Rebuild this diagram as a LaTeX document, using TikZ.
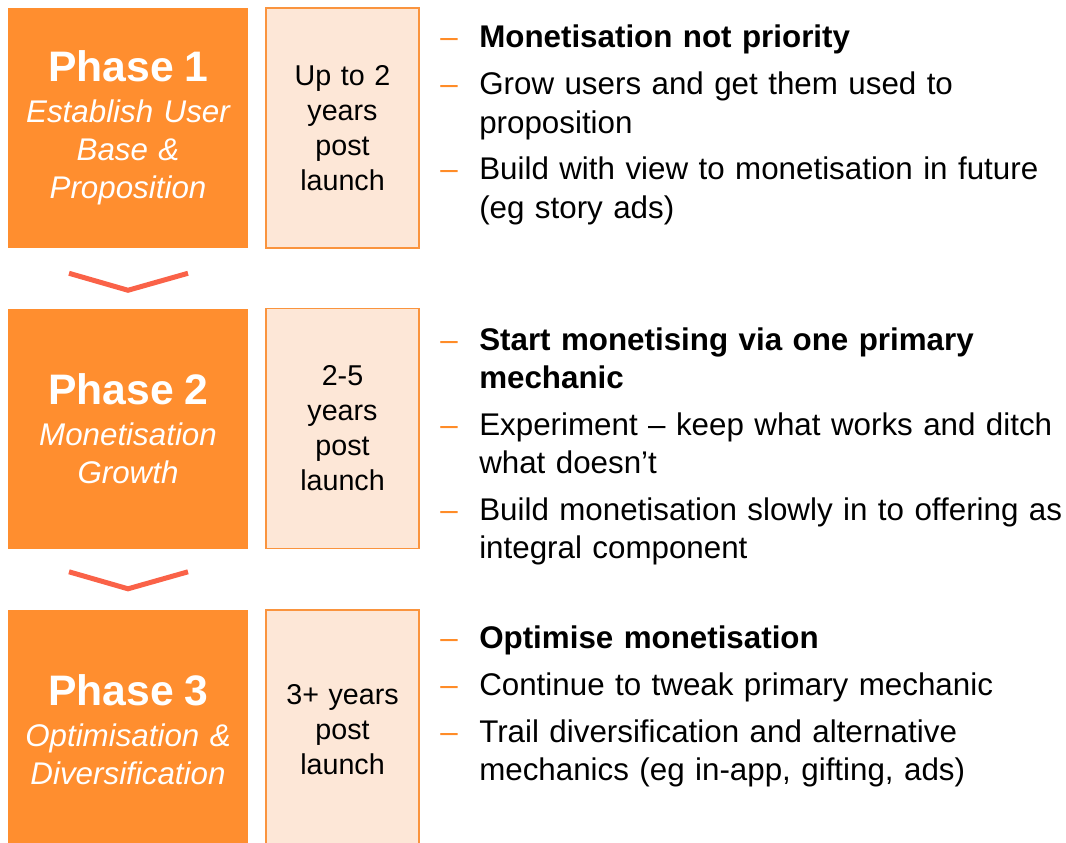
\documentclass[tikz,border=0pt]{standalone}
\usepackage{fontspec}
\setmainfont{Liberation Sans}
\usetikzlibrary{positioning,calc}

\definecolor{phaseorange}{RGB}{255,142,47}
\definecolor{timefill}{RGB}{253,231,215}
\definecolor{timeline}{RGB}{250,148,62}
\definecolor{chevred}{RGB}{250,98,72}
\definecolor{dashorange}{RGB}{255,140,40}

% one dash item with hanging second line
\newcommand{\dashitem}[1]{\noindent\hangindent=29.25pt\hangafter=1\makebox[29.25pt][l]{\textcolor{dashorange}{--}}#1\par}

\tikzset{
  phasebox/.style={fill=phaseorange, text=white, minimum width=180pt, minimum height=180pt, inner sep=0pt,
    text width=180pt, align=center, font=\fontsize{23.5pt}{28.5pt}\selectfont\itshape},
  timebox/.style={fill=timefill, draw=timeline, line width=1.1pt, minimum width=114.75pt, minimum height=180pt,
    inner sep=0pt, text width=114.75pt, align=center, font=\fontsize{21.5pt}{26.25pt}\selectfont},
  pointlist/.style={anchor=base west, inner sep=0pt, text width=520pt, align=left,
    font=\fontsize{23.5pt}{28.5pt}\selectfont, execute at begin node={\setlength{\parskip}{6.75pt}}},
  chevron/.style={draw=chevred, line width=3.75pt}
}

\begin{document}
\begin{tikzpicture}[x=0.75pt,y=0.75pt,yscale=-1,xscale=1]
\useasboundingbox (0,0) rectangle (1066,842);

%Shape: Rectangle -- phases
\node[phasebox] (ph1) at (128,128) {{\fontsize{32pt}{30pt}\selectfont\bfseries\upshape Phase 1}\\[2.25pt]Establish User\\Base \&\\Proposition};
\node[phasebox, below=45pt of ph1] (ph2) {{\fontsize{32pt}{30pt}\selectfont\bfseries\upshape Phase 2}\\[2.25pt]Monetisation\\Growth};
\node[phasebox, below=45.75pt of ph2] (ph3) {{\fontsize{32pt}{30pt}\selectfont\bfseries\upshape Phase 3}\\[2.25pt]Optimisation \&\\Diversification};

%Shape: Rectangle -- time spans
\node[timebox, right=12.75pt of ph1] (t1) {Up to 2\\years\\post\\launch};
\node[timebox, right=12.75pt of ph2] (t2) {2-5\\years\\post\\launch};
\node[timebox, right=12.75pt of ph3] (t3) {3+ years\\post\\launch};

%Straight Lines -- chevrons between phases
\draw[chevron] ($(ph1.south)+(-59,25)$) -- ($(ph1.south)+(0,42)$) -- ($(ph1.south)+(60,25)$);
\draw[chevron] ($(ph2.south)+(-59,23)$) -- ($(ph2.south)+(0,40)$) -- ($(ph2.south)+(60,23)$);

% Text Node
\node[pointlist] (pts1) at (440,48) {%
  \dashitem{\textbf{Monetisation not priority}}
  \dashitem{Grow users and get them used to\newline proposition}
  \dashitem{Build with view to monetisation in future\newline (eg story ads)}};
% Text Node
\node[pointlist] (pts2) at (440,350) {%
  \dashitem{\textbf{Start monetising via one primary\newline mechanic}}
  \dashitem{Experiment -- keep what works and ditch\newline what doesn’t}
  \dashitem{Build monetisation slowly in to offering as\newline integral component}};
% Text Node
\node[pointlist] (pts3) at (440,648) {%
  \dashitem{\textbf{Optimise monetisation}}
  \dashitem{Continue to tweak primary mechanic}
  \dashitem{Trail diversification and alternative\newline mechanics (eg in-app, gifting, ads)}};

\end{tikzpicture}
\end{document}
